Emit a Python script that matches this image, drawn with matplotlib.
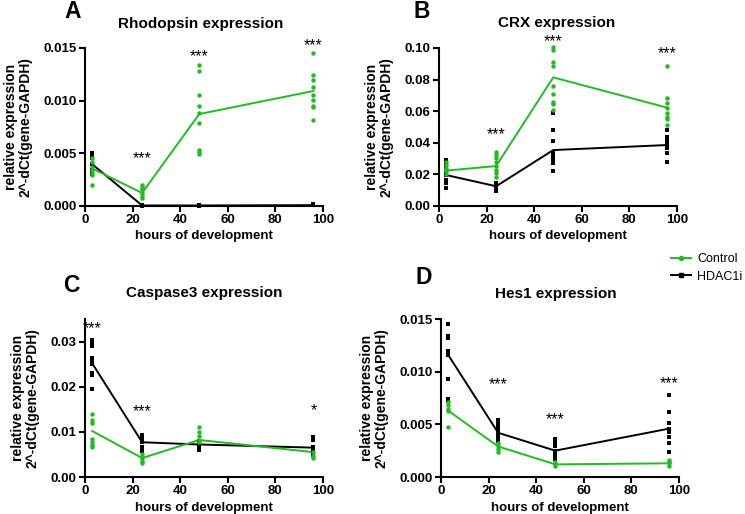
import numpy as np
import matplotlib.pyplot as plt
from matplotlib.lines import Line2D

plt.rcParams['font.family'] = ['Liberation Sans', 'DejaVu Sans']

# sampling times (hours of development)
hours = [3, 24, 48, 96]

# Rhodopsin
rho_ctrl = [[0.0046, 0.0042, 0.0037, 0.0034, 0.0031, 0.0029, 0.0020],
            [0.0020, 0.0018, 0.0016, 0.0012, 0.00095, 0.0008],
            [0.0134, 0.0128, 0.0105, 0.0095, 0.0088, 0.0079, 0.0053, 0.0051, 0.0049],
            [0.0145, 0.0124, 0.0120, 0.0113, 0.0105, 0.0101, 0.0095, 0.0094, 0.0082]]
rho_hdac = [[0.0050, 0.0048, 0.0046, 0.0040, 0.0034, 0.0032, 0.0030],
            [0.0001, 0.00006, 0.00003],
            [0.0001, 0.00005, 0.00002],
            [0.00015, 0.0001, 0.00005]]
rho_ctrl_mean = [0.00356, 0.00124, 0.00873, 0.01092]
rho_hdac_mean = [0.00397, 0.00005, 0.00005, 0.00008]
rho_stars = [(24, 0.0045, '***'), (48, 0.0142, '***'), (96, 0.0152, '***')]

# CRX
crx_ctrl = [[0.028, 0.026, 0.024, 0.023, 0.022, 0.020],
            [0.0344, 0.0323, 0.0302, 0.028, 0.0253, 0.0228, 0.0207, 0.0181],
            [0.1008, 0.0987, 0.0913, 0.0886, 0.0759, 0.0709, 0.066, 0.0645, 0.0608],
            [0.0888, 0.0681, 0.065, 0.0622, 0.0586, 0.0565, 0.0549, 0.0513]]
crx_hdac = [[0.0291, 0.027, 0.0249, 0.0217, 0.0196, 0.0165, 0.0143, 0.0112],
            [0.0143, 0.0127, 0.0112, 0.0097],
            [0.0591, 0.0481, 0.0413, 0.0338, 0.0316, 0.0295, 0.0274, 0.0222],
            [0.0481, 0.0439, 0.0424, 0.0407, 0.0386, 0.0365, 0.0333, 0.0281]]
crx_ctrl_mean = [0.0224, 0.0253, 0.0814, 0.0622]
crx_hdac_mean = [0.0196, 0.0125, 0.0354, 0.0386]
crx_stars = [(24, 0.045, '***'), (48, 0.1038, '***'), (96, 0.0962, '***')]

# Caspase3
casp_ctrl = [[0.0139, 0.0126, 0.012, 0.0085, 0.0077, 0.0071, 0.0066],
             [0.0051, 0.0042, 0.0036, 0.0031],
             [0.0111, 0.0099, 0.009, 0.0082, 0.0077],
             [0.0055, 0.0047, 0.0042]]
casp_hdac = [[0.0304, 0.0296, 0.029, 0.0263, 0.0255, 0.025, 0.0231, 0.0226, 0.0195],
             [0.0093, 0.0085, 0.0077, 0.0066, 0.0058],
             [0.008, 0.0073, 0.0066, 0.006],
             [0.0088, 0.0082, 0.0066, 0.006, 0.0055, 0.0049]]
casp_ctrl_mean = [0.0102, 0.0042, 0.0082, 0.0055]
casp_hdac_mean = [0.0252, 0.0077, 0.0072, 0.0065]
casp_stars = [(3, 0.0328, '***'), (24, 0.0144, '***'), (96, 0.0146, '*')]

# Hes1
hes_ctrl = [[0.0071, 0.0068, 0.0065, 0.0063, 0.0047],
            [0.0032, 0.0029, 0.0027, 0.0024],
            [0.0014, 0.0012, 0.001],
            [0.0016, 0.0014, 0.0013, 0.001]]
hes_hdac = [[0.0145, 0.0134, 0.0132, 0.012, 0.0116, 0.0093, 0.0074, 0.0072],
            [0.0054, 0.0051, 0.0047, 0.0045, 0.0042, 0.0039, 0.0036, 0.0034],
            [0.0036, 0.0033, 0.0029, 0.0025, 0.0022, 0.0019, 0.0017],
            [0.0078, 0.0062, 0.0051, 0.0046, 0.0043, 0.0038, 0.0032, 0.0024]]
hes_ctrl_mean = [0.0063, 0.0029, 0.0012, 0.0013]
hes_hdac_mean = [0.0116, 0.0042, 0.0025, 0.0046]
hes_stars = [(24, 0.0088, '***'), (48, 0.0054, '***'), (96, 0.0089, '***')]

green = '#22bb22'
W, H = 745, 514

panels = [
    # letter, title, ctrl, hdac, ctrl mean, hdac mean, stars, ylim, yticks, fmt, rect(px), letter pos, title pos
    ('A', 'Rhodopsin expression', rho_ctrl, rho_hdac, rho_ctrl_mean, rho_hdac_mean, rho_stars,
     0.015, [0, 0.005, 0.010, 0.015], '%.3f', (85, 48, 323, 206), (73, 12), (201, 24)),
    ('B', 'CRX expression', crx_ctrl, crx_hdac, crx_ctrl_mean, crx_hdac_mean, crx_stars,
     0.10, [0, 0.02, 0.04, 0.06, 0.08, 0.10], '%.2f', (439, 48, 677, 206), (422, 12), (557, 23)),
    ('C', 'Caspase3 expression', casp_ctrl, casp_hdac, casp_ctrl_mean, casp_hdac_mean, casp_stars,
     0.035, [0, 0.01, 0.02, 0.03], '%.2f', (85, 319, 323, 477), (71, 285), (204, 293)),
    ('D', 'Hes1 expression', hes_ctrl, hes_hdac, hes_ctrl_mean, hes_hdac_mean, hes_stars,
     0.015, [0, 0.005, 0.010, 0.015], '%.3f', (441, 319, 679, 477), (424, 278), (556, 294)),
]

fig = plt.figure(figsize=(W / 100, H / 100), dpi=100)

for (letter, title, ctrl, hdac, cmean, hmean, stars, ytop, yticks, fmt,
     rect, lpos, tpos) in panels:
    x0, y0, x1, y1 = rect
    ax = fig.add_axes([x0 / W, 1 - y1 / H, (x1 - x0) / W, (y1 - y0) / H])
    for t, vals in zip(hours, hdac):
        ax.plot([t] * len(vals), vals, 's', color='black', ms=3, mew=0, clip_on=False, zorder=3)
    for t, vals in zip(hours, ctrl):
        ax.plot([t] * len(vals), vals, 'o', color=green, ms=3.2, mew=0, clip_on=False, zorder=3)
    ax.plot(hours, hmean, color='black', lw=1.4, clip_on=False, zorder=2)
    ax.plot(hours, cmean, color=green, lw=1.4, clip_on=False, zorder=2)
    for t, yv, s in stars:
        ax.text(t, yv, s, ha='center', va='center', fontsize=11.5, clip_on=False)

    ax.set_xlim(0, 100)
    ax.set_ylim(0, ytop)
    ax.set_xticks([0, 20, 40, 60, 80, 100])
    ax.set_yticks(yticks)
    ax.set_yticklabels([fmt % v for v in yticks])
    for sp in ['top', 'right']:
        ax.spines[sp].set_visible(False)
    for sp in ['left', 'bottom']:
        ax.spines[sp].set_linewidth(1.5)
    ax.tick_params(direction='out', length=4, width=1.5, labelsize=9.5, pad=2)
    for lab in ax.get_xticklabels() + ax.get_yticklabels():
        lab.set_fontweight('bold')
    ax.set_xlabel('hours of development', fontsize=9.5, fontweight='bold', labelpad=3)
    ax.set_ylabel('relative expression\n2^-dCt(gene-GAPDH)', fontsize=10,
                  fontweight='bold', labelpad=8, linespacing=1.05)

    fig.text(lpos[0] / W, 1 - lpos[1] / H, letter, fontsize=16.5, fontweight='bold',
             ha='center', va='center')
    fig.text(tpos[0] / W, 1 - tpos[1] / H, title, fontsize=11, fontweight='bold',
             ha='center', va='center')

handles = [Line2D([], [], color=green, marker='o', ms=3, lw=1.4),
           Line2D([], [], color='black', marker='s', ms=3, lw=1.4)]
fig.legend(handles, ['Control', 'HDAC1i'], loc='center left',
           bbox_to_anchor=(665 / W, 1 - 268 / H), frameon=False, fontsize=9,
           handlelength=1.6, handletextpad=0.5, labelspacing=0.45, borderpad=0)

fig.savefig('out.png', dpi=100)
